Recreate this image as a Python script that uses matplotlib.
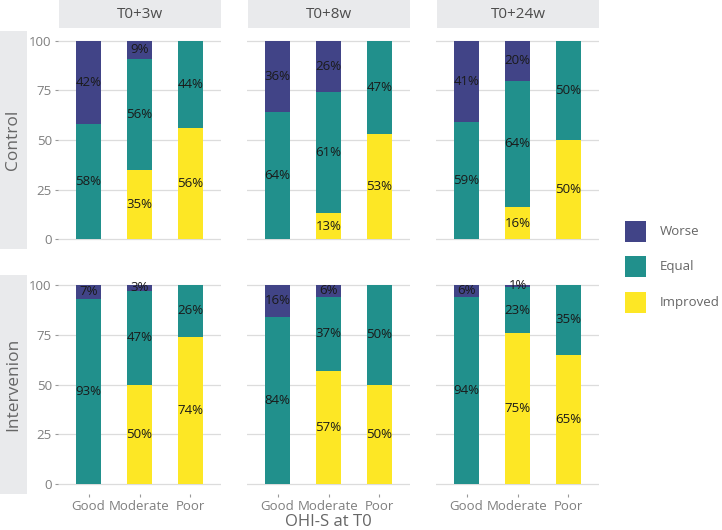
import numpy as np
import matplotlib.pyplot as plt
from matplotlib.patches import Rectangle

plt.rcParams['font.family'] = ['Open Sans', 'DejaVu Sans']

# Data: percentages per (group, timepoint, OHI-S category)
categories = ['Good', 'Moderate', 'Poor']
timepoints = ['T0+3w', 'T0+8w', 'T0+24w']
groups = ['Control', 'Intervenion']
series = ['Improved', 'Equal', 'Worse']

improved = {
    'Control':     [[0, 35, 56], [0, 13, 53], [0, 16, 50]],
    'Intervenion': [[0, 50, 74], [0, 57, 50], [0, 75, 65]],
}
equal = {
    'Control':     [[58, 56, 44], [64, 61, 47], [59, 64, 50]],
    'Intervenion': [[93, 47, 26], [84, 37, 50], [94, 23, 35]],
}
worse = {
    'Control':     [[42, 9, 0], [36, 26, 0], [41, 20, 0]],
    'Intervenion': [[7, 3, 0], [16, 6, 0], [6, 1, 0]],
}

colors = {'Improved': '#FDE725', 'Equal': '#21908C', 'Worse': '#414487'}
strip_bg = '#E9EAEC'
grey_txt = '#7F7F7F'

W, H = 722, 530
fig = plt.figure(figsize=(W / 100, H / 100), dpi=100)


def px_axes(x0, y0, x1, y1):
    return fig.add_axes([x0 / W, 1 - y1 / H, (x1 - x0) / W, (y1 - y0) / H])


col_x = [(58, 221), (247, 410), (436, 599)]
row_y = [(31, 249), (275, 494)]

for r, g in enumerate(groups):
    y0, y1 = row_y[r]
    # row strip on the left
    sax = px_axes(0, y0, 27, y1)
    sax.set_facecolor(strip_bg)
    sax.set_xticks([]); sax.set_yticks([])
    for s in sax.spines.values():
        s.set_visible(False)
    sax.text(0.5, 0.5, g, rotation=90, ha='center', va='center',
             fontsize=12.5, color='#666666', transform=sax.transAxes)

    for c, tp in enumerate(timepoints):
        x0, x1 = col_x[c]
        ax = px_axes(x0, y0, x1, y1)
        x = np.arange(len(categories))
        vals = {
            'Improved': np.array(improved[g][c], float),
            'Equal': np.array(equal[g][c], float),
            'Worse': np.array(worse[g][c], float),
        }
        total = vals['Improved'] + vals['Equal'] + vals['Worse']
        bottom = np.zeros(len(categories))
        for s in series:
            h = vals[s] / total * 100
            ax.bar(x, h, bottom=bottom, width=0.5, color=colors[s], zorder=2)
            for i in range(len(categories)):
                if vals[s][i] > 0:
                    ax.text(x[i], bottom[i] + h[i] / 2, f'{int(vals[s][i])}%',
                            ha='center', va='center', fontsize=9.5,
                            color='#1a1a1a', zorder=3)
            bottom += h

        ax.set_xlim(-0.6, 2.6)
        ax.set_ylim(-5, 105)
        ax.set_yticks([0, 25, 50, 75, 100])
        ax.grid(axis='y', color='#DCDCDC', linewidth=0.9, zorder=0)
        for s in ax.spines.values():
            s.set_visible(False)
        ax.tick_params(axis='both', colors='#999999', length=2.5, width=0.8,
                       labelcolor=grey_txt, labelsize=9.5, pad=2)
        if c != 0:
            ax.tick_params(axis='y', length=0, labelleft=False)
        if r == 1:
            ax.set_xticks(x)
            ax.set_xticklabels(categories, fontsize=9.5)
        else:
            ax.set_xticks([])

        if r == 0:
            tax = px_axes(x0 + 1, 0, x1, 28)
            tax.set_facecolor(strip_bg)
            tax.set_xticks([]); tax.set_yticks([])
            for s in tax.spines.values():
                s.set_visible(False)
            tax.text(0.5, 0.5, tp, ha='center', va='center', fontsize=11,
                     color='#4D4D4D', transform=tax.transAxes)

# x axis title
fig.text(328 / W, 1 - 522 / H, 'OHI-S at T0', ha='center', va='center',
         fontsize=12, color='#666666')

# legend
key_y = [221, 256, 292]
for s, ky in zip(['Worse', 'Equal', 'Improved'], key_y):
    fig.patches.append(Rectangle((625 / W, 1 - (ky + 21) / H), 21 / W, 21 / H,
                                 transform=fig.transFigure,
                                 facecolor=colors[s], edgecolor='none'))
    fig.text(660 / W, 1 - (ky + 10.5) / H, s, ha='left', va='center',
             fontsize=9.5, color='#666666')

fig.savefig('out.png', dpi=100)
